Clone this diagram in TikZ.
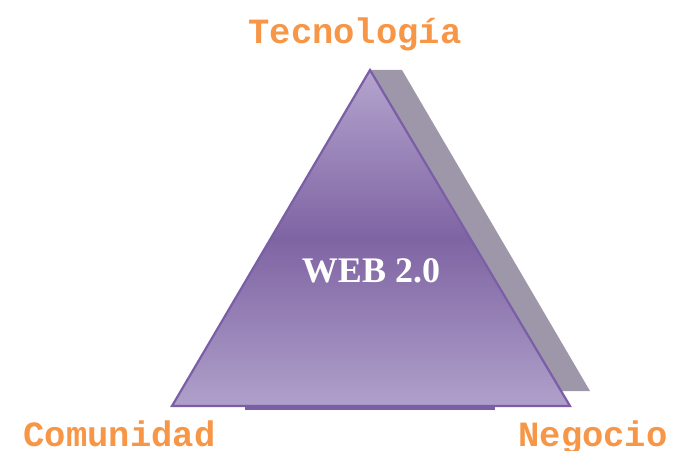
\documentclass[tikz,border=0pt]{standalone}
\usepackage{fontspec}
\setmainfont{Liberation Serif}
\newfontfamily\labelfont{Liberation Mono}
\begin{document}
\begin{tikzpicture}[x=1pt,y=1pt,
  cornerlabel/.style={font=\labelfont\bfseries\fontsize{35.5}{36}\selectfont, text=labelorange, anchor=base, inner sep=0pt},
  centerlabel/.style={font=\bfseries\fontsize{36}{38}\selectfont, text=white, anchor=base, inner sep=0pt}]
\definecolor{labelorange}{HTML}{F79646}
\definecolor{trilight}{HTML}{B4A4CE}
\definecolor{tridark}{HTML}{7F64A3}
\definecolor{trilightb}{HTML}{AFA0CA}
\definecolor{tristroke}{HTML}{7B5FA6}
\definecolor{shadowgrey}{HTML}{9E97A9}
\useasboundingbox (0,0) rectangle (693,450);
% shadow
\coordinate (sA) at (370,380);
\coordinate (sB) at (402,380);
\coordinate (sC) at (590,59);
\coordinate (sD) at (561,59);
\fill[shadowgrey] (sA) -- (sB) -- (sC) -- (sD) -- cycle;
% base line
\coordinate (bL) at (245,42);
\coordinate (bR) at (495,42);
\draw[tristroke, line width=3] (bL) -- (bR);
% triangle
\coordinate (top) at (370,380);
\coordinate (left) at (172,44);
\coordinate (right) at (570,44);
\shade[top color=trilight, bottom color=trilightb, middle color=tridark] (top) -- (left) -- (right) -- cycle;
\draw[tristroke, line width=2.2, line join=miter] (top) -- (left) -- (right) -- cycle;
% labels
\node[centerlabel] (web) at (371,167) {WEB 2.0};
\node[cornerlabel] (tec) at (355,406) {Tecnología};
\node[cornerlabel] (com) at (119.5,4) {Comunidad};
\node[cornerlabel] (neg) at (593,4) {Negocio};
\end{tikzpicture}
\end{document}
